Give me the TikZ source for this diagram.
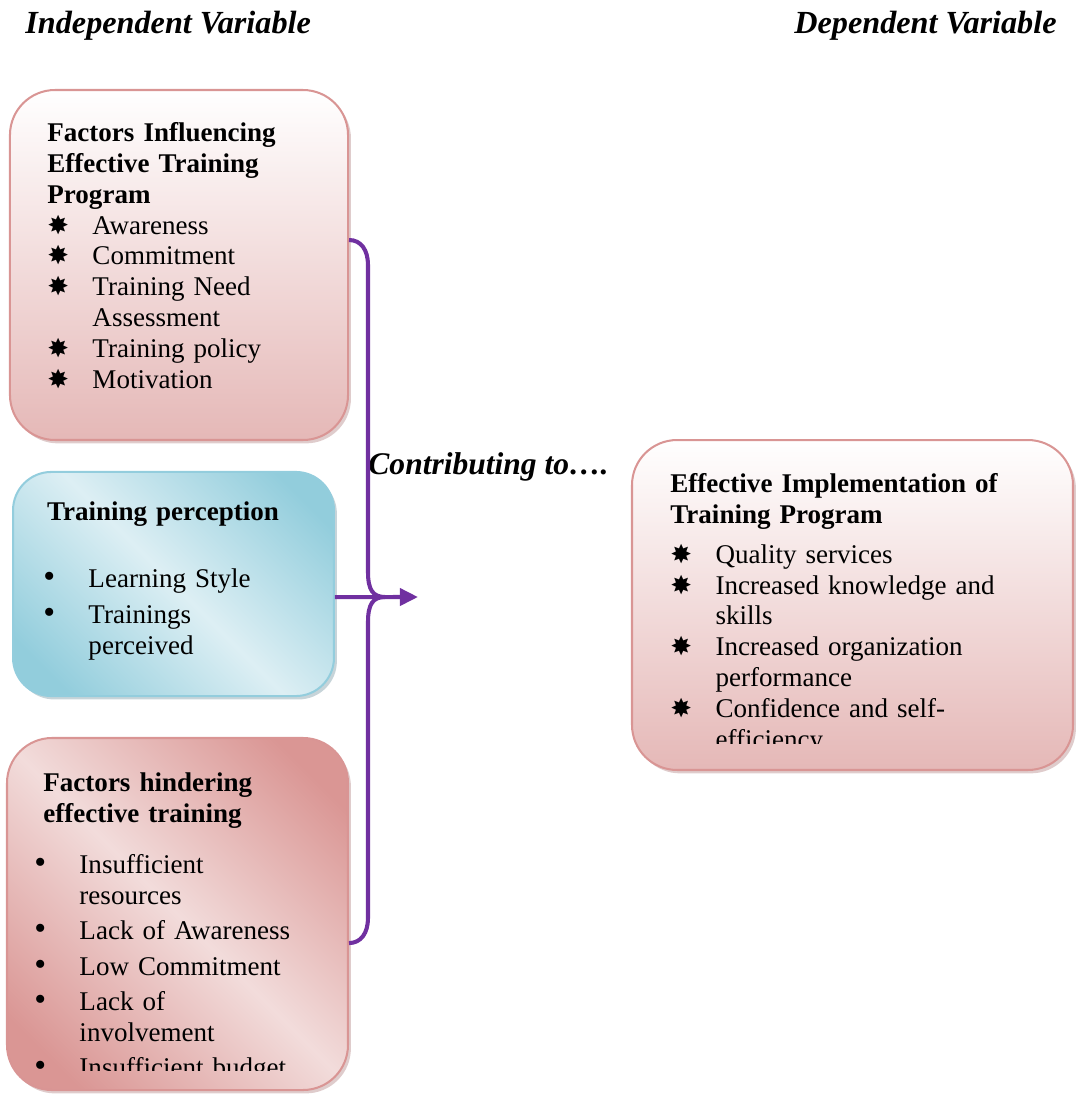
\documentclass[tikz,border=0pt]{standalone}
\usepackage{fontspec}
\setmainfont{Liberation Serif}
\newfontfamily\dingfont{DejaVu Sans}
\usetikzlibrary{positioning,arrows.meta,shadows,calc}
\definecolor{plum}{HTML}{7030A0}
\definecolor{rosedge}{HTML}{D99594}
\definecolor{rosebot}{HTML}{E5B8B7}
\definecolor{rosedeep}{HTML}{DA9694}
\definecolor{roselite}{HTML}{F2DCDB}
\definecolor{roseshad}{HTML}{BF9A9A}
\definecolor{skyedge}{HTML}{93CDDD}
\definecolor{skydeep}{HTML}{92CDDC}
\definecolor{skylite}{HTML}{DDEFF4}
\definecolor{skyshad}{HTML}{8FAAB3}
\pgfdeclarehorizontalshading{roseband}{100bp}{color(0bp)=(rosedeep); color(22bp)=(rosedeep); color(50bp)=(roselite); color(78bp)=(rosedeep); color(100bp)=(rosedeep)}
\pgfdeclarehorizontalshading{skyband}{100bp}{color(0bp)=(skydeep); color(22bp)=(skydeep); color(50bp)=(skylite); color(78bp)=(skydeep); color(100bp)=(skydeep)}
\newcommand{\st}{{\dingfont\fontsize{11.5}{0}\selectfont ✸}}
\newcommand{\dt}{{\fontsize{15}{0}\selectfont\textbullet}}
\newcommand{\itm}[2]{\par\hangindent=20pt\hangafter=1\noindent\makebox[20pt][l]{#1}#2}
\tikzset{
  rosebox/.style ={draw=rosedge, line width=.9pt, rounded corners=20pt, top color=white, bottom color=rosebot,
                   drop shadow={shadow xshift=1.3pt, shadow yshift=-1.5pt, fill=roseshad}},
  bandbox/.style ={draw=rosedge, line width=.9pt, rounded corners=20pt, shading=roseband, shading angle=45,
                   drop shadow={shadow xshift=1.3pt, shadow yshift=-1.5pt, fill=roseshad}},
  skybox/.style  ={draw=skyedge, line width=.9pt, rounded corners=17pt, shading=skyband, shading angle=45,
                   drop shadow={shadow xshift=1.3pt, shadow yshift=-1.5pt, fill=skyshad}},
  txt/.style     ={anchor=base west, inner sep=0pt, align=left, font=\fontsize{12}{13.7}\selectfont},
  head/.style    ={inner sep=0pt, font=\fontsize{14.3}{16}\selectfont\bfseries\itshape},
  brace/.style   ={draw=plum, line width=1.8pt},
  flow/.style    ={draw=plum, line width=1.8pt, -{Triangle[length=8pt,width=7.5pt]}},
}
\begin{document}
\begin{tikzpicture}[x=0.444pt,y=-0.444pt]
  \useasboundingbox (0,0) rectangle (1075,1097);
  \node[head,anchor=base west] (indep) at (25,33) {Independent Variable};
  \node[head,anchor=base east] (dep) at (1057,33) {Dependent Variable};

  \node[rosebox,minimum width=150.1pt,minimum height=155.4pt] (inf) at (179,265) {};
  \node[skybox,minimum width=142.5pt,minimum height=99.5pt] (perc) at (173.5,584) {};
  \node[bandbox,minimum width=151.4pt,minimum height=156.3pt] (hind) at (177.5,914) {};
  \node[rosebox,minimum width=195.8pt,minimum height=146.5pt] (impl) at (852.5,605) {};

  \node[txt,text width=140pt] (inf-t) at (47,141.5)
    {{\bfseries Factors Influencing\\ Effective Training\\ Program\par}
     \itm{\st}{Awareness}
     \itm{\st}{Commitment}
     \itm{\st}{Training Need\newline Assessment}
     \itm{\st}{Training policy}
     \itm{\st}{Motivation}\par};
  \node[txt,text width=135pt] (perc-t) at (43,520.5)
    {\setlength{\parskip}{2.3pt}{\bfseries\hspace*{1.6pt}Training perception\par}\vspace{13.7pt}
     \itm{\dt}{Learning Style}
     \itm{\dt}{Trainings\newline perceived}\par};
  \begin{scope}
    \clip (0,738) rectangle (360,1070);
    \node[txt,text width=140pt] (hind-t) at (34,791.5)
      {\setlength{\parskip}{2pt}{\bfseries\hspace*{4pt}Factors hindering\\ \hspace*{4pt}effective training\par}\vspace{7pt}
       \itm{\dt}{Insufficient\newline resources}
       \itm{\dt}{Lack of Awareness}
       \itm{\dt}{Low Commitment}
       \itm{\dt}{Lack of\newline involvement}
       \itm{\dt}{Insufficient budget}\par};
  \end{scope}
  \begin{scope}
    \clip (620,440) rectangle (1075,743);
    \node[txt,text width=170pt] (impl-t) at (670,492.5)
      {{\bfseries Effective Implementation of\\ Training Program\par}\vspace{4pt}
       \itm{\st}{Quality services}
       \itm{\st}{Increased knowledge and\newline skills}
       \itm{\st}{Increased organization\newline performance}
       \itm{\st}{Confidence and self-\newline efficiency}\par};
  \end{scope}

  \node[head,font=\fontsize{14}{16}\selectfont\bfseries\itshape,anchor=base west] (contrib) at (368,474) {Contributing to….};
  \coordinate (tip) at (385,597);
  \coordinate (gap) at (418,597);
  \draw[brace] ([yshift=11.1pt]inf.east) .. controls +(12,0) and +(0,-15) .. (368,265) -- (368,572)
    .. controls +(0,18) and +(-12,0) .. (tip) .. controls +(-12,0) and +(0,-18) .. (368,622) -- (368,918)
    .. controls +(0,15) and +(12,0) .. ([yshift=-12.9pt]hind.east);
  \draw[flow] ([yshift=-5.8pt]perc.east) -- (gap);
\end{tikzpicture}
\end{document}
